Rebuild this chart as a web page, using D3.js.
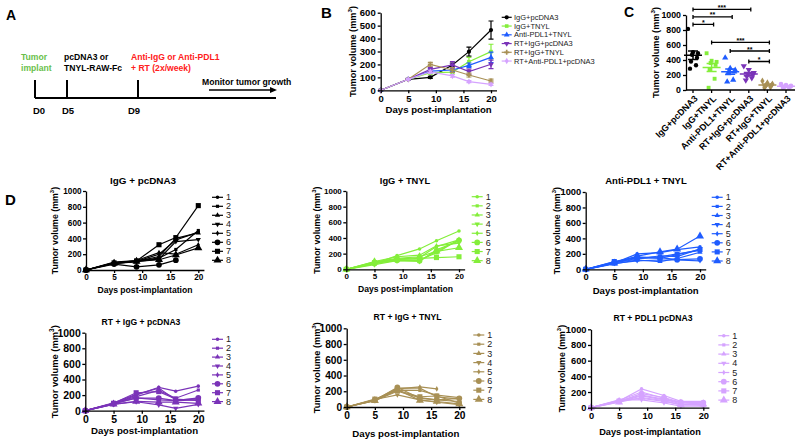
<!DOCTYPE html>
<html><head><meta charset="utf-8">
<script src="https://cdn.jsdelivr.net/npm/d3@7"></script>
<style>body{margin:0;background:#fff} svg{display:block}</style>
</head><body><svg id="fig" width="800" height="440"></svg>
<script>
// ---------------- DATA ----------------
const days = [0, 5, 9, 13, 16, 20];
const xTicks = [0, 5, 10, 15, 20];
const bTicksY = [0, 100, 200, 300, 400, 500, 600];
const dTicksY = [0, 200, 400, 600, 800, 1000];
const groups = ["IgG+pcDNA3", "IgG+TNYL", "Anti-PDL1+TNYL", "RT+IgG+pcDNA3", "RT+IgG+TNYL", "RT+Anti-PDL1+pcDNA3"];

// Panel B: group means and SEM per day
const bMean = [
  [0, 85, 100, 196, 299, 466],
  [0, 85, 136, 141, 221, 299],
  [0, 85, 149, 157, 193, 255],
  [0, 85, 162, 196, 144, 201],
  [0, 85, 201, 157, 118, 72],
  [0, 85, 143, 111, 67, 46]
];
const bSem = [
  [0, 5, 8, 15, 35, 70],
  [0, 5, 12, 15, 34, 57],
  [0, 5, 15, 18, 18, 40],
  [0, 5, 15, 25, 20, 33],
  [0, 5, 15, 18, 15, 15],
  [0, 5, 12, 10, 8, 8]
];

// Panel C: day-20 volumes per mouse
const cValues = [
  [815, 505, 490, 470, 430, 380, 330, 285],
  [490, 390, 375, 360, 335, 270, 150, 30],
  [430, 290, 265, 255, 245, 220, 135, 110],
  [320, 270, 230, 215, 200, 180, 160, 130],
  [120, 95, 80, 70, 60, 50, 40, 30],
  [80, 65, 55, 50, 45, 40, 35, 30]
];
const sigPairs = [[0, 3], [0, 2], [0, 1], [1, 4], [2, 4], [3, 4]];
const sigLabels = ["***", "**", "*", "***", "**", "*"];
const sigLevels = [1075, 975, 875, 635, 520, 380];

// Panel D: individual mice
const dTitles = ["IgG + pcDNA3", "IgG + TNYL", "Anti-PDL1 + TNYL", "RT + IgG + pcDNA3", "RT + IgG + TNYL", "RT + PDL1 pcDNA3"];
const mouseLabels = ["1", "2", "3", "4", "5", "6", "7", "8"];
const dIgGpcDNA3 = [
  [0, 90, 110, 200, 380, 480],
  [0, 95, 115, 150, 260, 500],
  [0, 85, 110, 170, 400, 470],
  [0, 80, 105, 140, 360, 385],
  [0, 100, 120, 220, 200, 320],
  [0, 75, 40, 65, 125, null],
  [0, 90, 115, 320, 410, 815],
  [0, 85, 110, 130, 190, 280]
];
const dIgGTNYL = [
  [0, 70, 175, 260, 365, 490],
  [0, 90, 130, 150, 290, 375],
  [0, 80, 120, 120, 210, 380],
  [0, 60, 110, 100, 250, 360],
  [0, 100, 160, 180, 300, 335],
  [0, 75, 115, 110, 230, 370],
  [0, 85, 125, 140, 150, 160],
  [0, 95, 140, 160, 230, 275]
];
const dPDL1TNYL = [
  [0, 80, 200, 215, 255, 290],
  [0, 95, 150, 160, 200, 245],
  [0, 70, 120, 100, 140, 220],
  [0, 85, 130, 175, 165, 265],
  [0, 75, 110, 120, 120, 110],
  [0, 90, 140, 150, 125, 135],
  [0, 100, 160, 140, 190, 255],
  [0, 80, 170, 225, 260, 430]
];
const dRTIgGpcDNA3 = [
  [0, 85, 200, 300, 250, 315],
  [0, 95, 180, 260, 160, 265],
  [0, 90, 165, 140, 130, 140],
  [0, 80, 115, 75, 30, 80],
  [0, 100, 210, 290, 140, 150],
  [0, 90, 160, 160, 130, 165],
  [0, 95, 230, 245, 150, 130],
  [0, 85, 120, 110, 110, 95]
];
const dRTIgGTNYL = [
  [0, 90, 240, 240, 130, 100],
  [0, 85, 215, 210, 150, 120],
  [0, 80, 200, 120, 90, 70],
  [0, 95, 155, 90, 60, 30],
  [0, 90, 230, 255, 230, null],
  [0, 85, 250, 110, 90, 110],
  [0, 100, 210, 130, 140, 50],
  [0, 80, 220, 85, 70, 40]
];
const dRTPDL1pcDNA3 = [
  [0, 85, 240, 155, 80, 80],
  [0, 95, 200, 120, 60, 50],
  [0, 75, 150, 100, 75, 60],
  [0, 90, 120, 80, 40, 30],
  [0, 100, 100, 60, 20, 20],
  [0, 80, 180, 130, 70, 65],
  [0, 85, 160, 110, 50, 40],
  [0, 70, 130, 90, 35, 45]
];
const dData = [dIgGpcDNA3, dIgGTNYL, dPDL1TNYL, dRTIgGpcDNA3, dRTIgGTNYL, dRTPDL1pcDNA3];

// Panel A schematic text
const aEvents = ["D0", "D5", "D9"];

// ---------------- STYLES / LAYOUT ----------------
const FONT = "'Liberation Sans', Arial, Helvetica, sans-serif";
const colors = ["#000000", "#84ee3a", "#1f5cff", "#7a33b8", "#a89055", "#d5a3ff"];
const groupMarkers = [["circle", 14], ["square", 13], ["triangle", 14], ["triangleDown", 14], ["cross", 14], ["diamond", 12]];
const cMarkers = [["circle", 15], ["square", 15], ["triangle", 17], ["triangleDown", 17], ["diamond", 15], ["circle", 17]];
const dMarkers = [["circle", 10], ["square", 10], ["triangle", 12], ["triangleDown", 12], ["diamond", 9], ["circle", 26], ["square", 26], ["triangle", 28]];
const fmt = d3.format("d");

const svg = d3.select("#fig").attr("font-family", FONT);

const symTypes = {circle: d3.symbolCircle, square: d3.symbolSquare, triangle: d3.symbolTriangle,
  triangleDown: d3.symbolTriangle, diamond: d3.symbolDiamond, cross: d3.symbolCross};
function marker(g, type, size, x, y, color) {
  g.append("path").attr("d", d3.symbol().type(symTypes[type]).size(size)())
    .attr("transform", `translate(${x},${y})` + (type === "triangleDown" ? " rotate(180)" : ""))
    .attr("fill", color).attr("stroke", "none");
}
function styleAxis(sel, fs) {
  sel.attr("font-family", FONT).attr("font-size", fs).attr("font-weight", "bold");
  sel.select(".domain").attr("stroke", "#000").attr("stroke-width", 1.3);
  sel.selectAll(".tick line").attr("stroke", "#000").attr("stroke-width", 1.3);
  sel.selectAll(".tick text").attr("fill", "#000");
}
function yTitle(g, x, y, fs) {
  const t = g.append("text").attr("transform", `translate(${x},${y}) rotate(-90)`)
    .attr("text-anchor", "middle").attr("font-size", fs).attr("font-weight", "bold").attr("dy", "0.35em");
  t.append("tspan").text("Tumor volume (mm");
  t.append("tspan").text("3").attr("font-size", fs * 0.68).attr("dy", -fs * 0.42);
  t.append("tspan").text(")").attr("dy", fs * 0.42);
}
function letter(t, x, y, fs) {
  svg.append("text").attr("x", x).attr("y", y).attr("font-size", fs).attr("font-weight", "bold").text(t);
}

// ---------------- PANEL A ----------------
letter("A", 6, 20, 14);
(function () {
  const g = svg.append("g").attr("font-weight", "bold").attr("font-size", 8.6);
  const evX = [35, 67, 138];
  const lx = [33, 62, 128];
  g.append("line").attr("x1", 35).attr("x2", 276).attr("y1", 98).attr("y2", 98).attr("stroke", "#000").attr("stroke-width", 2);
  aEvents.forEach((e, i) => {
    g.append("line").attr("x1", evX[i]).attr("x2", evX[i]).attr("y1", 80).attr("y2", 98).attr("stroke", "#000").attr("stroke-width", 2);
    g.append("text").attr("x", lx[i]).attr("y", 114).attr("font-size", 9.5).text(e);
  });
  const blocks = [
    {x: 21, c: "#6abf4b", lines: ["Tumor", "implant"]},
    {x: 64, c: "#000", lines: ["pcDNA3 or", "TNYL-RAW-Fc"]},
    {x: 131, c: "#ff2020", lines: ["Anti-IgG or Anti-PDL1", "+ RT (2x/week)"]}
  ];
  blocks.forEach(b => b.lines.forEach((l, k) =>
    g.append("text").attr("x", b.x).attr("y", 60 + k * 11).attr("fill", b.c).text(l)));
  g.append("text").attr("x", 202).attr("y", 85).attr("font-size", 8.6).text("Monitor tumor growth");
  g.append("line").attr("x1", 209).attr("x2", 272).attr("y1", 90).attr("y2", 90).attr("stroke", "#000").attr("stroke-width", 1.6);
  g.append("path").attr("d", "M270,87 L277,90 L270,93 Z").attr("fill", "#000");
})();

// ---------------- PANEL B ----------------
letter("B", 321, 18, 15);
(function () {
  const L = {x0: 380.7, x20: 491, y0: 90.3, yTop: 12.7};
  const g = svg.append("g");
  const x = d3.scaleLinear().domain([0, 21]).range([L.x0, L.x0 + (L.x20 - L.x0) * 21 / 20]);
  const y = d3.scaleLinear().domain([0, 600]).range([L.y0, L.yTop]);
  const line = d3.line().x(d => x(d[0])).y(d => y(d[1]));
  bMean.forEach((m, i) => {
    const pts = days.map((d, k) => [d, m[k], bSem[i][k]]);
    g.append("path").attr("d", line(pts)).attr("fill", "none").attr("stroke", colors[i]).attr("stroke-width", 1.2);
    pts.forEach(p => {
      if (p[2] > 0) {
        const cx = x(p[0]);
        g.append("path").attr("d", `M${cx},${y(p[1] - p[2])}V${y(p[1] + p[2])}M${cx - 2.5},${y(p[1] + p[2])}H${cx + 2.5}M${cx - 2.5},${y(p[1] - p[2])}H${cx + 2.5}`)
          .attr("stroke", colors[i]).attr("stroke-width", 1.2).attr("fill", "none");
      }
      marker(g, groupMarkers[i][0], groupMarkers[i][1], x(p[0]), y(p[1]), colors[i]);
    });
  });
  const xa = g.append("g").attr("transform", `translate(0,${L.y0})`)
    .call(d3.axisBottom(x).tickValues(xTicks).tickFormat(fmt).tickSize(3).tickSizeOuter(0).tickPadding(2));
  styleAxis(xa, 9.5);
  const ya = g.append("g").attr("transform", `translate(${L.x0},0)`)
    .call(d3.axisLeft(y).tickValues(bTicksY).tickFormat(fmt).tickSize(3).tickSizeOuter(0).tickPadding(2));
  styleAxis(ya, 9.5);
  g.append("text").attr("x", (x.range()[0] + x.range()[1]) / 2).attr("y", L.y0 + 23).attr("text-anchor", "middle")
    .attr("font-size", 9.6).attr("font-weight", "bold").text("Days post-implantation");
  yTitle(g, 353, (L.y0 + L.yTop) / 2, 9.2);
  groups.forEach((name, i) => {
    const ly = 17.3 + i * 8.75;
    g.append("line").attr("x1", 501.7).attr("x2", 511.7).attr("y1", ly).attr("y2", ly).attr("stroke", colors[i]).attr("stroke-width", 1.2);
    marker(g, groupMarkers[i][0], groupMarkers[i][1], 506.7, ly, colors[i]);
    g.append("text").attr("x", 514).attr("y", ly).attr("dy", "0.35em").attr("font-size", 7.5).attr("fill", "#222").text(name);
  });
})();

// ---------------- PANEL C ----------------
letter("C", 624, 17, 14);
(function () {
  const g = svg.append("g");
  const y0 = 90, yTop = 15;
  const x = d3.scalePoint().domain(groups).range([693, 786]);
  const y = d3.scaleLinear().domain([0, 1000]).range([y0, yTop]);
  cValues.forEach((vals, i) => {
    const cx = x(groups[i]);
    vals.forEach((v, k) => marker(g, cMarkers[i][0], cMarkers[i][1], cx + ((k * 5) % 11) - 5, y(v), colors[i]));
    const m = d3.mean(vals), se = d3.deviation(vals) / Math.sqrt(vals.length);
    g.append("path").attr("d", `M${cx - 9},${y(m)}H${cx + 9}M${cx},${y(m - se)}V${y(m + se)}M${cx - 5},${y(m + se)}H${cx + 5}M${cx - 5},${y(m - se)}H${cx + 5}`)
      .attr("stroke", colors[i]).attr("stroke-width", 1.5).attr("fill", "none");
  });
  g.append("line").attr("x1", 686).attr("x2", 795).attr("y1", y0).attr("y2", y0).attr("stroke", "#000").attr("stroke-width", 1.3);
  groups.forEach(gname => {
    const cx = x(gname);
    g.append("line").attr("x1", cx).attr("x2", cx).attr("y1", y0).attr("y2", y0 + 3).attr("stroke", "#000").attr("stroke-width", 1.3);
    g.append("text").attr("transform", `translate(${cx + 3},${y0 + 7}) rotate(-45)`).attr("text-anchor", "end")
      .attr("dy", "0.35em").attr("font-size", 9).attr("font-weight", "bold").text(gname);
  });
  const ya = g.append("g").attr("transform", "translate(686,0)")
    .call(d3.axisLeft(y).tickValues(dTicksY).tickFormat(fmt).tickSize(3).tickSizeOuter(0).tickPadding(2));
  styleAxis(ya, 8.8);
  yTitle(g, 656, (y0 + yTop) / 2, 9.2);
  sigPairs.forEach((p, i) => {
    const xa = x(groups[p[0]]), xb = x(groups[p[1]]) + 2, yy = y(sigLevels[i]);
    g.append("path").attr("d", `M${xa},${yy - 2}V${yy + 2}M${xa},${yy}H${xb}M${xb},${yy - 2}V${yy + 2}`)
      .attr("stroke", "#000").attr("stroke-width", 1.3).attr("fill", "none");
    g.append("text").attr("x", (xa + xb) / 2).attr("y", yy + 0.5).attr("text-anchor", "middle")
      .attr("font-size", 7).attr("font-weight", "bold").text(sigLabels[i]);
  });
})();

// ---------------- PANEL D ----------------
letter("D", 5, 205, 15);
const dLayout = [
  {x0: 86, x20: 198.3, y0: 270, yTop: 191, tx: 143, ty: 183.5, tfs: 9.9, ytx: 55, lx: 212, ly: 197.3, ls: 9.0, tf: 8.2, xt: 8.6, xto: 22.5, ytf: 8.8},
  {x0: 346.3, x20: 459, y0: 269.3, yTop: 191, tx: 405, ty: 183.5, tfs: 9.3, ytx: 317, lx: 471.7, ly: 196.7, ls: 9.14, tf: 8.0, xt: 8.6, xto: 23, ytf: 8.8},
  {x0: 585.7, x20: 700, y0: 269.3, yTop: 192, tx: 646, ty: 183.5, tfs: 9.5, ytx: 557, lx: 711.7, ly: 197.3, ls: 9.1, tf: 9.3, xt: 9.6, xto: 25, ytf: 8.8},
  {x0: 85.3, x20: 198.3, y0: 410.7, yTop: 332.7, tx: 141, ty: 325, tfs: 8.6, ytx: 55, lx: 212, ly: 339.3, ls: 8.9, tf: 10.5, xt: 9.7, xto: 23.5, ytf: 9.4},
  {x0: 346.7, x20: 459.3, y0: 407, yTop: 328.3, tx: 407.5, ty: 320, tfs: 8.6, ytx: 317, lx: 473.3, ly: 335, ls: 9.2, tf: 10.2, xt: 9.7, xto: 30, ytf: 9.2},
  {x0: 591, x20: 703.3, y0: 407.7, yTop: 329.3, tx: 653, ty: 320.7, tfs: 8.6, ytx: 562, lx: 718.3, ly: 335.7, ls: 9.2, tf: 9.3, xt: 9.2, xto: 27, ytf: 8.8}
];
dData.forEach((data, i) => {
  const L = dLayout[i], col = colors[i];
  const g = svg.append("g");
  const x = d3.scaleLinear().domain([0, 21]).range([L.x0, L.x0 + (L.x20 - L.x0) * 21 / 20]);
  const y = d3.scaleLinear().domain([0, 1000]).range([L.y0, L.yTop]);
  const line = d3.line().defined(d => d[1] != null).x(d => x(d[0])).y(d => y(d[1]));
  data.forEach((mouse, j) => {
    const pts = days.map((d, k) => [d, mouse[k]]);
    g.append("path").attr("d", line(pts)).attr("fill", "none").attr("stroke", col).attr("stroke-width", 1.2);
    pts.filter(p => p[1] != null).forEach(p => marker(g, dMarkers[j][0], dMarkers[j][1], x(p[0]), y(p[1]), col));
  });
  const xa = g.append("g").attr("transform", `translate(0,${L.y0})`)
    .call(d3.axisBottom(x).tickValues(xTicks).tickFormat(fmt).tickSize(3).tickSizeOuter(0).tickPadding(1.5));
  styleAxis(xa, L.tf);
  const ya = g.append("g").attr("transform", `translate(${L.x0},0)`)
    .call(d3.axisLeft(y).tickValues(dTicksY).tickFormat(fmt).tickSize(3).tickSizeOuter(0).tickPadding(1.5));
  styleAxis(ya, L.tf);
  g.append("text").attr("x", L.tx).attr("y", L.ty).attr("text-anchor", "middle").attr("font-size", L.tfs)
    .attr("font-weight", "bold").text(dTitles[i]);
  g.append("text").attr("x", (x.range()[0] + x.range()[1]) / 2).attr("y", L.y0 + L.xto).attr("text-anchor", "middle")
    .attr("font-size", L.xt).attr("font-weight", "bold").text("Days post-implantation");
  yTitle(g, L.ytx, (L.y0 + L.yTop) / 2, L.ytf);
  mouseLabels.forEach((lab, j) => {
    const ly = L.ly + j * L.ls;
    g.append("line").attr("x1", L.lx).attr("x2", L.lx + 11).attr("y1", ly).attr("y2", ly).attr("stroke", col).attr("stroke-width", 1.2);
    marker(g, dMarkers[j][0], dMarkers[j][1], L.lx + 5.5, ly, col);
    g.append("text").attr("x", L.lx + 14).attr("y", ly).attr("dy", "0.35em").attr("font-size", 9).attr("fill", "#222").text(lab);
  });
});
</script>
</body></html>
